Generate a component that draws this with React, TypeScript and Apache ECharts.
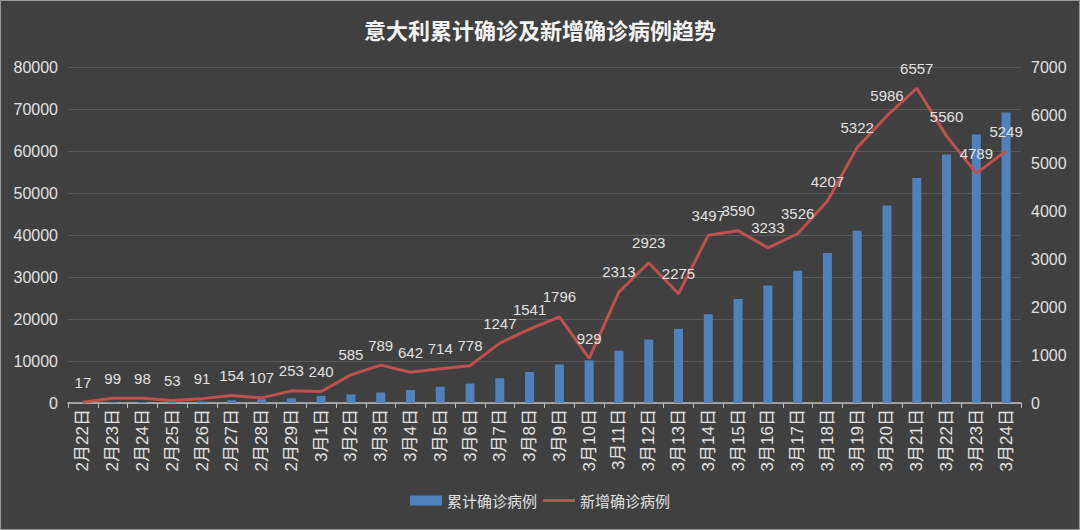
import React, { useEffect, useRef } from "react";
import * as echarts from "echarts";

const categories = [
  "2月22日", "2月23日", "2月24日", "2月25日", "2月26日", "2月27日", "2月28日", "2月29日",
  "3月1日", "3月2日", "3月3日", "3月4日", "3月5日", "3月6日", "3月7日", "3月8日",
  "3月9日", "3月10日", "3月11日", "3月12日", "3月13日", "3月14日", "3月15日", "3月16日",
  "3月17日", "3月18日", "3月19日", "3月20日", "3月21日", "3月22日", "3月23日", "3月24日",
];

const cumulative = [
  79, 157, 229, 322, 400, 650, 888, 1128,
  1694, 2036, 2502, 3089, 3858, 4636, 5883, 7375,
  9172, 10149, 12462, 15113, 17660, 21157, 24747, 27980,
  31506, 35713, 41035, 47021, 53578, 59138, 63927, 69176,
];

const newCases = [
  17, 99, 98, 53, 91, 154, 107, 253,
  240, 585, 789, 642, 714, 778, 1247, 1541,
  1796, 929, 2313, 2923, 2275, 3497, 3590, 3233,
  3526, 4207, 5322, 5986, 6557, 5560, 4789, 5249,
];

const leftTicks = { min: 0, max: 80000, interval: 10000 };
const rightTicks = { min: 0, max: 7000, interval: 1000 };

const FONT = "'Liberation Sans', 'Noto Sans CJK SC', sans-serif";
const CJK = "'Noto Sans CJK SC', sans-serif";
const TEXT = "#e0e0e0";
const RED = "#c0504d";
const BLUE = "#4f81bd";

export default function App() {
  const ref = useRef<HTMLDivElement>(null);
  useEffect(() => {
    if (!ref.current) return;
    const chart = echarts.init(ref.current, null, { renderer: "svg" });
    chart.setOption({
      animation: false,
      backgroundColor: "#404040",
      textStyle: { fontFamily: FONT },
      title: {
        text: "意大利累计确诊及新增确诊病例趋势",
        left: "center",
        top: 12,
        textStyle: { color: "#f2f2f2", fontSize: 22, fontWeight: "bold", fontFamily: CJK },
      },
      legend: {
        bottom: 16,
        left: "center",
        itemGap: 6,
        itemWidth: 32,
        itemHeight: 10,
        textStyle: { color: TEXT, fontSize: 15, fontFamily: CJK },
        data: [
          { name: "累计确诊病例", icon: "rect", itemStyle: { color: BLUE } },
          {
            name: "新增确诊病例",
            icon: "path://M0,0 L32,0 L32,3 L0,3 Z",
            itemStyle: { color: RED, opacity: 1 },
          },
        ],
      },
      grid: { left: 67, right: 58, top: 66, bottom: 126 },
      xAxis: {
        type: "category",
        data: categories,
        boundaryGap: true,
        axisLine: { lineStyle: { color: "#bfbfbf", width: 1.5 } },
        axisTick: { show: true, alignWithLabel: false, length: 5, lineStyle: { color: "#bfbfbf" } },
        axisLabel: {
          color: TEXT,
          fontSize: 17,
          rotate: 90,
          interval: 0,
          margin: 6,
          fontFamily: FONT,
        },
      },
      yAxis: [
        {
          type: "value",
          ...leftTicks,
          axisLine: { show: false },
          axisTick: { show: false },
          axisLabel: { color: TEXT, fontSize: 16, margin: 10, formatter: (v: number) => String(v) },
          splitLine: { lineStyle: { color: "#595959", width: 1 } },
        },
        {
          type: "value",
          ...rightTicks,
          axisLine: { show: false },
          axisTick: { show: false },
          axisLabel: { color: TEXT, fontSize: 16, margin: 10, formatter: (v: number) => String(v) },
          splitLine: { show: false },
        },
      ],
      series: [
        {
          name: "累计确诊病例",
          type: "bar",
          data: cumulative,
          yAxisIndex: 0,
          barWidth: 9,
          itemStyle: { color: BLUE },
        },
        {
          name: "新增确诊病例",
          type: "line",
          data: newCases,
          yAxisIndex: 1,
          symbol: "circle",
          symbolSize: 1,
          showSymbol: true,
          lineStyle: { color: RED, width: 3 },
          itemStyle: { color: RED, opacity: 0 },
          label: {
            show: true,
            position: "top",
            distance: 12,
            color: TEXT,
            fontSize: 15,
            opacity: 1,
          },
          labelLayout: { hideOverlap: false },
        },
      ],
    });
    return () => chart.dispose();
  }, []);
  return (
    <div
      ref={ref}
      style={{
        position: "fixed",
        left: 0,
        top: 0,
        width: 1080,
        height: 530,
        boxSizing: "border-box",
        border: "1px solid #9a9a9a",
      }}
    />
  );
}
